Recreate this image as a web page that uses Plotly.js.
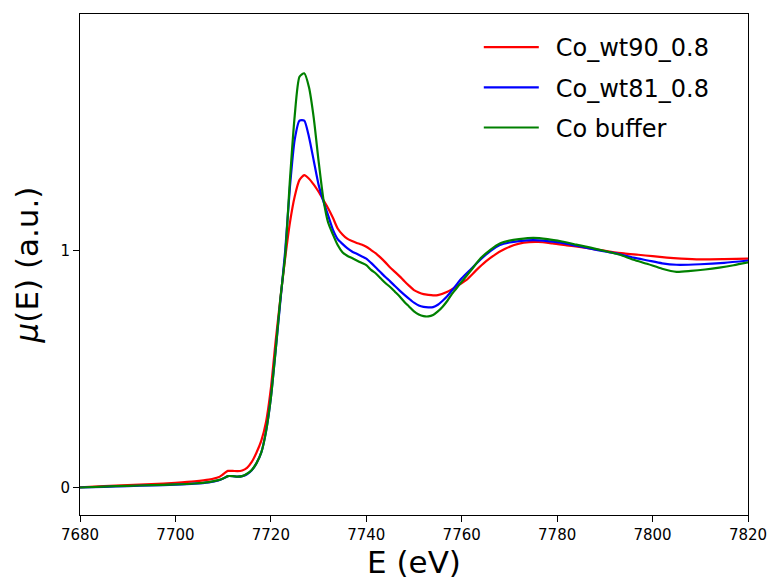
<!DOCTYPE html>
<html>
<head>
<meta charset="utf-8">
<script src="https://cdn.plot.ly/plotly-3.0.1.min.js"></script>
<style>html,body{margin:0;padding:0;background:#fff;}#chart{width:773px;height:580px;}</style>
</head>
<body>
<div id="chart"></div>
<script>
// Energies (eV) and normalised mu(E)
const energyRed = [7680,7685,7690,7695,7700,7704,7707,7709,7710,7711,7712,7713,7714,7715,7716,7717,7718,7719,7720,7721,7722,7723,7724,7725,7726,7727,7728,7729,7730,7731,7732,7733,7734,7735,7736,7737,7738,7739,7740,7741,7742,7743,7744,7745,7746,7747,7748,7749,7750,7751,7752,7753,7754,7755,7757,7759,7761,7763,7765,7767,7769,7771,7773,7776,7779,7782,7785,7788,7791,7794,7797,7800,7803,7806,7810,7815,7820];
const muRed = [0.003,0.008,0.012,0.016,0.022,0.028,0.035,0.045,0.058,0.072,0.072,0.071,0.074,0.085,0.11,0.15,0.20,0.28,0.42,0.62,0.80,0.97,1.12,1.23,1.30,1.32,1.305,1.28,1.25,1.215,1.18,1.14,1.095,1.07,1.052,1.042,1.034,1.027,1.018,1.004,0.99,0.972,0.952,0.93,0.912,0.893,0.872,0.853,0.835,0.825,0.818,0.815,0.813,0.814,0.828,0.852,0.878,0.918,0.955,0.985,1.008,1.025,1.035,1.038,1.032,1.024,1.016,1.007,0.998,0.99,0.984,0.978,0.972,0.968,0.965,0.966,0.968];

const energyBlue = [7680,7685,7690,7695,7700,7704,7707,7709,7710,7711,7712,7713,7714,7715,7716,7717,7718,7719,7720,7721,7722,7723,7724,7725,7726,7727,7728,7729,7730,7731,7732,7733,7734,7735,7736,7737,7738,7739,7740,7741,7742,7743,7744,7745,7746,7747,7748,7749,7750,7751,7752,7753,7754,7755,7756,7757,7758,7759,7760,7762,7764,7766,7768,7770,7772,7775,7778,7781,7784,7787,7790,7793,7796,7799,7802,7805,7810,7815,7820];
const muBlue = [0.002,0.005,0.008,0.011,0.014,0.018,0.024,0.032,0.04,0.05,0.05,0.048,0.05,0.058,0.075,0.105,0.15,0.24,0.38,0.58,0.79,1.0,1.27,1.47,1.55,1.55,1.48,1.38,1.28,1.21,1.15,1.09,1.05,1.03,1.012,0.998,0.988,0.978,0.968,0.95,0.93,0.91,0.89,0.872,0.852,0.833,0.815,0.798,0.782,0.77,0.764,0.762,0.763,0.773,0.79,0.81,0.835,0.86,0.885,0.925,0.965,1.0,1.025,1.036,1.042,1.046,1.042,1.034,1.022,1.01,0.998,0.987,0.972,0.96,0.948,0.942,0.944,0.95,0.96];

const energyGreen = [7680,7685,7690,7695,7700,7704,7707,7709,7710,7711,7712,7713,7714,7715,7716,7717,7718,7719,7720,7721,7722,7723,7724,7725,7726,7727,7728,7729,7730,7731,7732,7733,7734,7735,7736,7737,7738,7739,7740,7741,7742,7743,7744,7745,7746,7747,7748,7749,7750,7751,7752,7753,7754,7755,7756,7757,7758,7759,7760,7762,7764,7766,7768,7770,7772,7775,7778,7781,7784,7787,7790,7793,7796,7799,7802,7805,7808,7811,7814,7817,7820];
const muGreen = [0.002,0.006,0.009,0.012,0.015,0.019,0.025,0.033,0.04,0.05,0.05,0.048,0.05,0.06,0.076,0.105,0.15,0.24,0.38,0.58,0.80,0.98,1.30,1.57,1.735,1.75,1.69,1.56,1.38,1.22,1.12,1.07,1.025,0.995,0.98,0.97,0.96,0.95,0.94,0.92,0.905,0.885,0.865,0.848,0.828,0.808,0.785,0.765,0.745,0.732,0.725,0.724,0.73,0.745,0.765,0.79,0.82,0.845,0.87,0.92,0.97,1.005,1.032,1.044,1.05,1.055,1.05,1.04,1.027,1.014,1.0,0.985,0.963,0.945,0.925,0.912,0.916,0.922,0.93,0.94,0.952];

const seriesNames = ["Co_wt90_0.8","Co_wt81_0.8","Co buffer"];
const xTicks = [7680,7700,7720,7740,7760,7780,7800,7820];
const yTicks = [0,1];

const FONT = "DejaVu Sans, sans-serif";
const mk = (x,y,name,color,g)=>({x:x,y:y,name:"\u2002"+name,type:"scatter",mode:"lines",
  line:{color:color,width:2.2,shape:"spline",smoothing:0.6},legendgroup:g,hoverinfo:"skip"});

const data = [
  mk(energyRed,muRed,seriesNames[0],"#ff0000","a"),
  mk(energyBlue,muBlue,seriesNames[1],"#0000ff","b"),
  mk(energyGreen,muGreen,seriesNames[2],"#008000","c")
];

const layout = {
  width:773,height:580,
  margin:{l:80,r:25,t:14,b:65,pad:0},
  paper_bgcolor:"#fff",plot_bgcolor:"#fff",
  font:{family:FONT,color:"#000"},
  showlegend:true,
  legend:{x:0.597,y:0.978,xanchor:"left",yanchor:"top",bgcolor:"rgba(0,0,0,0)",
    font:{family:FONT,size:24,color:"#000"},tracegroupgap:6,itemwidth:55},
  xaxis:{range:[7680,7820],tickvals:xTicks,ticktext:xTicks.map(String),
    showgrid:false,zeroline:false,showline:true,mirror:true,linecolor:"#000",linewidth:1,
    ticks:"outside",ticklen:6,tickwidth:1,tickcolor:"#000",
    tickfont:{family:FONT,size:15,color:"#000"},
    title:{text:"E (eV)",font:{family:FONT,size:31,color:"#000"},standoff:4},automargin:false},
  yaxis:{range:[-0.114,2.0],tickvals:yTicks,ticktext:yTicks.map(String),
    showgrid:false,zeroline:false,showline:true,mirror:true,linecolor:"#000",linewidth:1,
    ticks:"outside",ticklen:6,tickwidth:1,tickcolor:"#000",
    tickfont:{family:FONT,size:15,color:"#000"},
    title:{text:"<i>μ</i>(E) (a.u.)",font:{family:FONT,size:31,color:"#000"},standoff:12},automargin:false}
};

Plotly.newPlot("chart",data,layout,{displayModeBar:false,staticPlot:true});
</script>
</body>
</html>
